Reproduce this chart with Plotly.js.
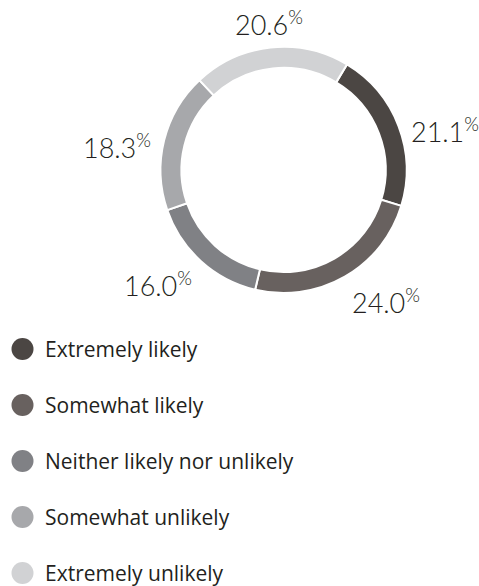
<!DOCTYPE html>
<html>
<head>
<meta charset="utf-8">
<script src="https://cdn.plot.ly/plotly-3.0.1.min.js"></script>
<style>html,body{margin:0;padding:0;background:#fff;}#chart{width:479px;height:586px;}</style>
</head>
<body>
<div id="chart"></div>
<script>
const categories = ["Extremely likely", "Somewhat likely", "Neither likely nor unlikely", "Somewhat unlikely", "Extremely unlikely"];
const values = [21.1, 24.0, 16.0, 18.3, 20.6];
const colors = ["#4b4643", "#68615f", "#808185", "#a7a8ab", "#d1d2d4"];

const W = 479, H = 586;
const FONT = "Open Sans, Noto Sans, sans-serif";
const LABEL_FONT = "Lato, Open Sans, sans-serif";
const TXT = "#231f20";
const ROT = 31;
const dom = { x: [0.335, 0.849], y: [0.5, 0.92] };

const pie = {
  type: "pie",
  labels: categories,
  values: values,
  sort: false,
  direction: "clockwise",
  rotation: ROT,
  hole: 0.83,
  marker: { colors: colors, line: { color: "#ffffff", width: 2 } },
  textinfo: "none",
  domain: dom,
  showlegend: false,
  hoverinfo: "label+percent"
};

const shapes = [], annotations = [];

// percentage labels placed outside the ring at each slice's mid-angle,
// anchored by the corner/side nearest to the ring
const cx = (dom.x[0] + dom.x[1]) / 2 * W;
const cy = (1 - (dom.y[0] + dom.y[1]) / 2) * H;
const R = (dom.x[1] - dom.x[0]) * W / 2;
const total = values.reduce((a, b) => a + b, 0);
const LSIZE = 27, pad = 11;
let acc = 0;
values.forEach((v, i) => {
  const mid = (ROT + (acc + v / 2) / total * 360) * Math.PI / 180;
  acc += v;
  const s = Math.sin(mid), c = Math.cos(mid);
  const r = R + pad;
  const x = cx + r * s, y = cy - r * c;
  const ya = c > 0.4 ? "bottom" : (c < -0.4 ? "top" : "middle");
  annotations.push({
    xref: "paper", yref: "paper", x: x / W, y: 1 - y / H,
    xanchor: s > 0.4 ? "left" : (s < -0.4 ? "right" : "center"),
    yanchor: ya,
    yshift: ya === "bottom" ? -6 : (ya === "middle" ? -8 : 5),
    showarrow: false,
    text: v.toFixed(1) + "<sup>%</sup>",
    font: { family: LABEL_FONT, size: LSIZE, color: TXT, weight: 300 }
  });
});

// custom legend (circle swatches + labels)
categories.forEach((c, i) => {
  const yc = 349 + 56 * i;
  shapes.push({
    type: "circle", xref: "paper", yref: "paper",
    xsizemode: "pixel", ysizemode: "pixel",
    xanchor: 22.5 / W, yanchor: 1 - yc / H,
    x0: -11, x1: 11, y0: -11, y1: 11,
    fillcolor: colors[i], line: { width: 0 }
  });
  annotations.push({
    xref: "paper", yref: "paper", x: 43 / W, y: 1 - yc / H,
    xanchor: "left", yanchor: "middle", showarrow: false,
    text: c, font: { family: FONT, size: 21, color: TXT }
  });
});

Plotly.newPlot("chart", [pie], {
  width: W, height: H,
  margin: { l: 0, r: 0, t: 0, b: 0 },
  paper_bgcolor: "#ffffff",
  showlegend: false,
  shapes: shapes,
  annotations: annotations
}, { displayModeBar: false, staticPlot: true });
</script>
</body>
</html>
